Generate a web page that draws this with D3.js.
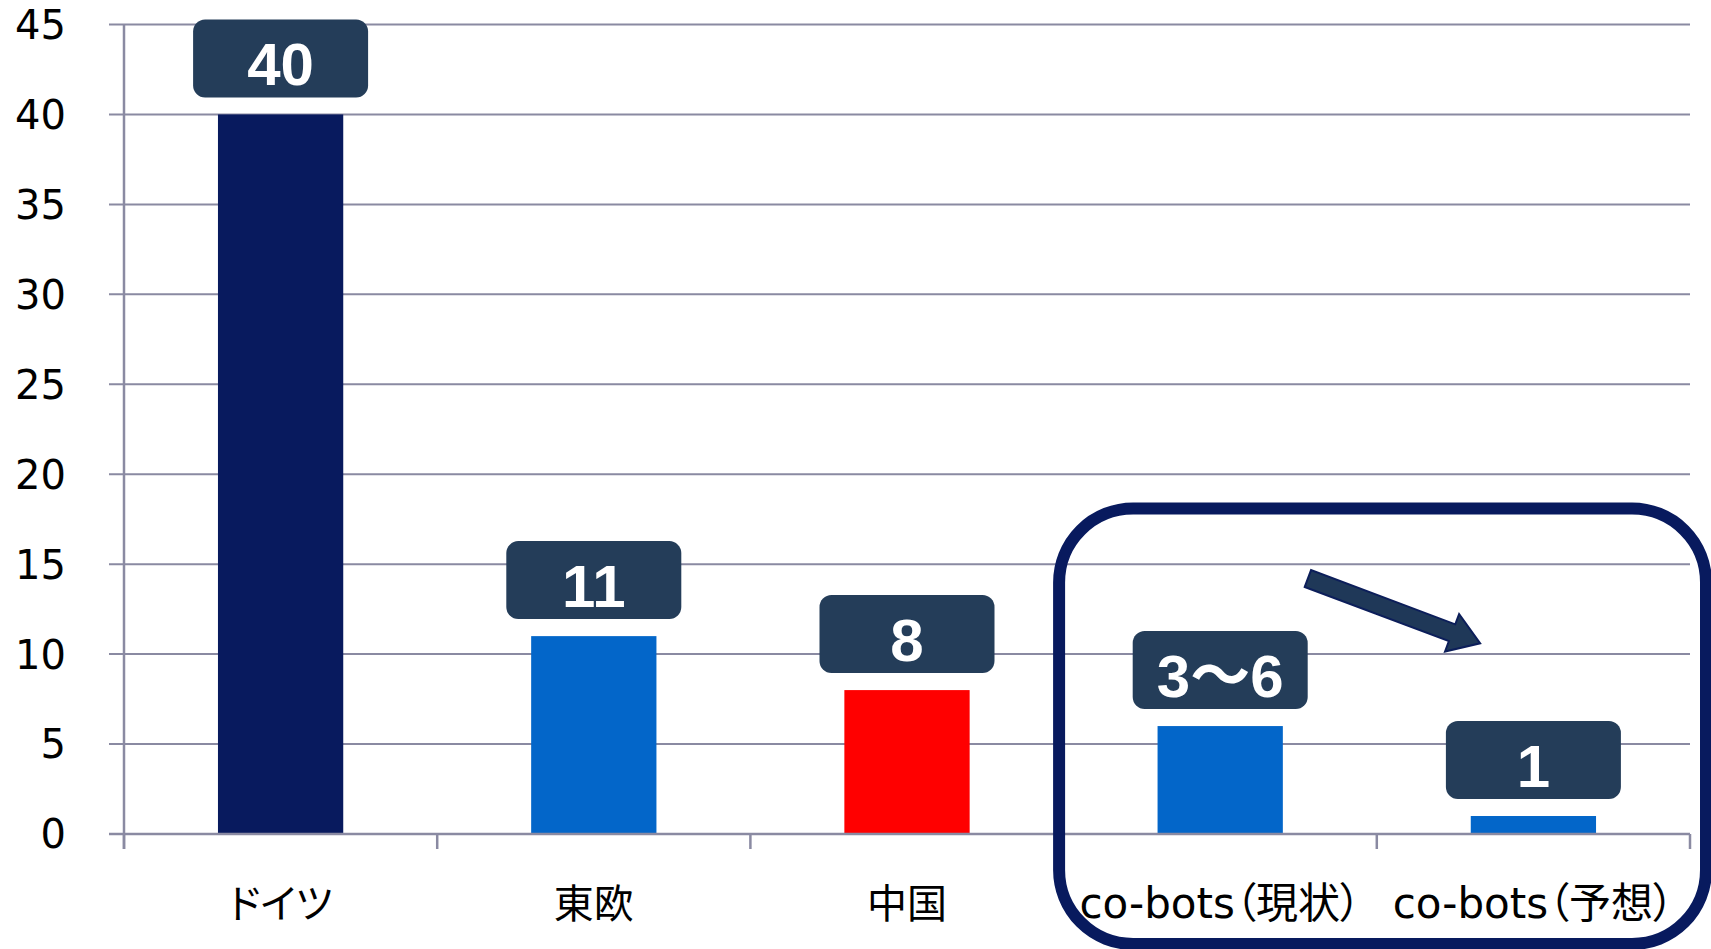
<!DOCTYPE html>
<html>
<head>
<meta charset="utf-8">
<script src="https://cdn.jsdelivr.net/npm/d3@7"></script>
<style>
  html, body { margin: 0; padding: 0; background: #ffffff; overflow: hidden; }
  svg { display: block; }
</style>
</head>
<body>
<svg id="chart" width="1711" height="949"></svg>
<script>
// ---- data ----
const categories = ["ドイツ", "東欧", "中国", "co-bots（現状）", "co-bots（予想）"];
const values = [40, 11, 8, 6, 1];
const valueLabels = ["40", "11", "8", "3〜6", "1"];
const barColors = ["#081a5e", "#0366c9", "#ff0000", "#0366c9", "#0366c9"];
const yTicks = [0, 5, 10, 15, 20, 25, 30, 35, 40, 45];

// ---- layout ----
const svg = d3.select("#chart");
const plotLeft = 124, plotRight = 1690, plotTop = 24.5, plotBottom = 834;

const x = d3.scaleBand().domain(categories).range([plotLeft, plotRight]).padding(0);
const y = d3.scaleLinear().domain([0, 45]).range([plotBottom, plotTop]);
const barW = x.bandwidth() * 0.4;
const gridColor = "#8a8aa2";

// gridlines
svg.append("g").selectAll("line.grid").data(yTicks).join("line")
  .attr("x1", plotLeft - 15).attr("x2", plotRight)
  .attr("y1", d => y(d)).attr("y2", d => y(d))
  .attr("stroke", gridColor).attr("stroke-width", 2);

// y tick labels
svg.append("g").selectAll("text.ytick").data(yTicks).join("text")
  .attr("x", 66).attr("y", d => y(d)).attr("dy", "0.36em")
  .attr("text-anchor", "end")
  .attr("font-family", "'DejaVu Sans', Verdana, sans-serif")
  .attr("font-size", 40).attr("fill", "#000")
  .text(d => d);

// bars
svg.append("g").selectAll("rect.bar").data(categories).join("rect")
  .attr("x", d => x(d) + (x.bandwidth() - barW) / 2)
  .attr("width", barW)
  .attr("y", (d, i) => y(values[i]))
  .attr("height", (d, i) => y(0) - y(values[i]))
  .attr("fill", (d, i) => barColors[i]);

// y axis line
svg.append("line").attr("x1", plotLeft).attr("x2", plotLeft)
  .attr("y1", plotTop).attr("y2", plotBottom + 15)
  .attr("stroke", gridColor).attr("stroke-width", 2.5);
// x axis baseline + category boundary ticks
svg.append("line").attr("x1", plotLeft - 15).attr("x2", plotRight)
  .attr("y1", y(0)).attr("y2", y(0))
  .attr("stroke", gridColor).attr("stroke-width", 2.5);
const bounds = categories.map(c => x(c)).concat([plotRight]);
svg.append("g").selectAll("line.xt").data(bounds).join("line")
  .attr("x1", d => d).attr("x2", d => d)
  .attr("y1", y(0)).attr("y2", y(0) + 15)
  .attr("stroke", gridColor).attr("stroke-width", 2.5);

// x category labels
svg.append("g").selectAll("text.xl").data(categories).join("text")
  .attr("x", d => x(d) + x.bandwidth() / 2)
  .attr("y", 918)
  .attr("text-anchor", "middle")
  .attr("font-family", "'DejaVu Sans', 'Noto Sans CJK JP', sans-serif")
  .style("font-feature-settings", "'palt'")
  .attr("font-size", d => /[a-z]/.test(d) ? 42 : 40).attr("fill", "#000")
  .text(d => d);

// value label boxes
const boxW = 175, boxH = 78, gap = 17;
const lg = svg.append("g").selectAll("g.lab").data(categories).join("g")
  .attr("transform", (d, i) => `translate(${x(d) + x.bandwidth() / 2},${y(values[i]) - gap - boxH})`);
lg.append("rect").attr("x", -boxW / 2).attr("y", 0).attr("width", boxW).attr("height", boxH)
  .attr("rx", 12).attr("ry", 12).attr("fill", "#243d59");
lg.append("text").attr("x", 0).attr("y", 66).attr("text-anchor", "middle")
  .attr("font-family", "'Liberation Sans', 'Noto Sans CJK JP', Arial, sans-serif")
  .attr("font-weight", "bold").attr("font-size", 60).attr("fill", "#ffffff")
  .text((d, i) => valueLabels[i]);

// annotation arrow (from co-bots current toward forecast), positioned through scales
const step = x.step();
const tail = [plotLeft + step * 3.78, y(14.2)];
const tip = [plotLeft + step * 4.33, y(10.6)];
const dx = tip[0] - tail[0], dy = tip[1] - tail[1];
const len = Math.hypot(dx, dy);
const ux = dx / len, uy = dy / len, nx = -uy, ny = ux;
const shaftHalf = 9, headHalf = 20, headLen = 30;
const bx = tip[0] - ux * headLen, by = tip[1] - uy * headLen;
const pts = [
  [tail[0] + nx * shaftHalf, tail[1] + ny * shaftHalf],
  [bx + nx * shaftHalf, by + ny * shaftHalf],
  [bx + nx * headHalf, by + ny * headHalf],
  tip,
  [bx - nx * headHalf, by - ny * headHalf],
  [bx - nx * shaftHalf, by - ny * shaftHalf],
  [tail[0] - nx * shaftHalf, tail[1] - ny * shaftHalf]
];
svg.append("path").attr("d", d3.line()(pts) + "Z")
  .attr("fill", "#1f3858").attr("stroke", "#0c1e5a").attr("stroke-width", 2)
  .attr("stroke-linejoin", "miter");

// highlight rounded frame around co-bots categories
const frameX = x(categories[3]) - 4.5;
svg.append("rect")
  .attr("x", frameX).attr("y", 508.5)
  .attr("width", 1706 - frameX).attr("height", 944 - 508.5)
  .attr("rx", 74).attr("ry", 74)
  .attr("fill", "none").attr("stroke", "#081a5e").attr("stroke-width", 12);
</script>
</body>
</html>
